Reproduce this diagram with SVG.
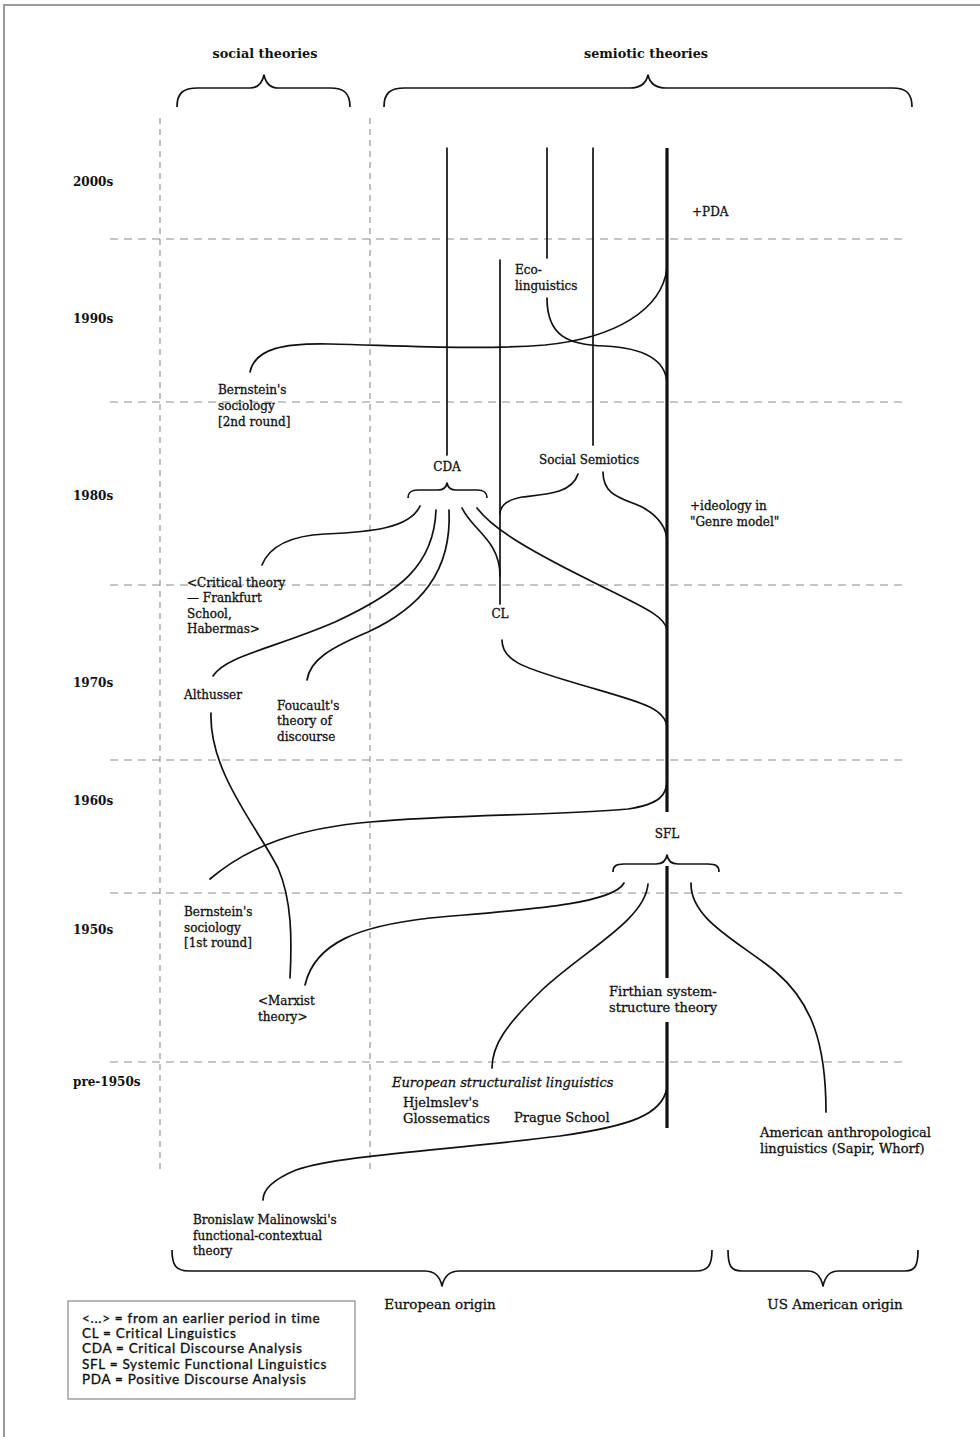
<svg xmlns="http://www.w3.org/2000/svg" width="980" height="1437" viewBox="0 0 980 1437">
  <style>
    .frame { fill: none; stroke: #9a9a9a; stroke-width: 2; }
    .grid { fill: none; stroke: #8c8c8c; stroke-width: 1.2; stroke-dasharray: 8 6; }
    .vgrid { fill: none; stroke: #8c8c8c; stroke-width: 1.1; stroke-dasharray: 6 5; }
    .line { fill: none; stroke: #111; stroke-width: 1.7; stroke-linecap: round; }
    .main { fill: none; stroke: #111; stroke-width: 3.2; }
    .brace { fill: none; stroke: #111; stroke-width: 1.7; stroke-linejoin: round; }
    .head { font-family: "DejaVu Serif", "Liberation Serif", serif; font-weight: bold; font-size: 12.8px; fill: #111; }
    .year { font-family: "DejaVu Serif", "Liberation Serif", serif; font-weight: bold; font-size: 12px; fill: #111; }
    .lbl { font-family: "DejaVu Serif", "Liberation Serif", serif; font-size: 12px; fill: #111; stroke: #111; stroke-width: 0.3; }
    .wide { font-size: 13px; }
    .origin { font-size: 13.5px; }
    .it { font-style: italic; }
    .mid { text-anchor: middle; }
    .legend { font-family: "Lato", "Liberation Sans", sans-serif; font-size: 13.5px; letter-spacing: 0.7px; fill: #111; stroke: #111; stroke-width: 0.35; }
    .box { fill: #fff; stroke: #888; stroke-width: 1.2; }
  </style>

  <rect width="980" height="1437" fill="#fff"/>
  <path class="frame" d="M4,1437 L4,5 L980,5"/>

  <!-- column headers with their braces -->
  <g id="header-social">
    <text class="head mid" x="265" y="58">social theories</text>
    <path class="brace" d="M177,107 C177,93 183,88 198,88 L250,88 C258,88 262,84 264,75 C266,84 270,88 278,88 L330,88 C344,88 350,93 350,107"/>
  </g>
  <g id="header-semiotic">
    <text class="head mid" x="646" y="58">semiotic theories</text>
    <path class="brace" d="M384,107 C384,93 390,88 405,88 L630,88 C640,88 646,84 648,75 C650,84 656,88 666,88 L892,88 C906,88 912,93 912,107"/>
  </g>

  <!-- decade grid -->
  <g id="grid">
    <path class="vgrid" d="M160,118 V1172 M370,118 V1172"/>
    <path class="grid" d="M110,239 H902 M110,402 H902 M110,585 H902 M110,760 H902 M110,893 H902 M110,1062 H902"/>
  </g>

  <g id="decades">
    <text class="year" x="73" y="186">2000s</text>
    <text class="year" x="73" y="323">1990s</text>
    <text class="year" x="73" y="500">1980s</text>
    <text class="year" x="73" y="687">1970s</text>
    <text class="year" x="73" y="805">1960s</text>
    <text class="year" x="73" y="934">1950s</text>
    <text class="year" x="73" y="1086">pre-1950s</text>
  </g>

  <!-- lines of influence -->
  <g id="connectors">
    <!-- SFL trunk -->
    <path class="main" d="M667,148 V812 M667,866 V978 M667,1022 V1128"/>
    <!-- straight strands -->
    <path class="line" d="M447,148 V455"/>
    <path class="line" d="M547,148 V258"/>
    <path class="line" d="M593,148 V445"/>
    <path class="line" d="M500,260 V604"/>
    <!-- Bernstein 2nd round into SFL -->
    <path class="line" d="M250,372 C255,348 285,343 330,344 C410,346 480,350 545,345 C615,338 662,310 667,268"/>
    <!-- Eco-linguistics out of SFL -->
    <path class="line" d="M547,298 C547,336 568,345 605,346 C645,348 665,360 667,382"/>
    <!-- Social Semiotics branches -->
    <path class="line" d="M578,474 C572,493 548,494 522,497 C506,500 500,506 500,514"/>
    <path class="line" d="M603,472 C603,496 622,498 642,507 C660,517 667,528 667,542"/>
    <!-- CDA fan -->
    <path class="line" d="M420,506 C410,528 372,532 325,534 C285,536 268,550 262,565"/>
    <path class="line" d="M436,510 C434,565 400,592 335,622 C275,648 225,656 213,676"/>
    <path class="line" d="M449,510 C452,572 420,608 368,632 C330,648 310,660 307,680"/>
    <path class="line" d="M462,508 C472,530 500,540 500,576"/>
    <path class="line" d="M477,508 C492,528 525,548 585,578 C640,606 665,615 667,630"/>
    <!-- CL into SFL -->
    <path class="line" d="M502,640 C502,660 522,667 565,680 C630,700 665,705 667,727"/>
    <!-- Bernstein 1st round into SFL -->
    <path class="line" d="M210,879 C250,845 300,828 370,822 C450,815 560,815 628,809 C660,804 667,795 667,780"/>
    <!-- Althusser back to Marxist theory -->
    <path class="line" d="M211,713 C209,772 258,828 278,868 C292,900 292,940 290,978"/>
    <!-- Marxist theory into SFL -->
    <path class="line" d="M305,985 C315,942 360,926 430,918 C520,910 612,905 624,883"/>
    <!-- roots of SFL -->
    <path class="line" d="M648,884 C645,920 585,950 542,990 C506,1025 492,1045 492,1068"/>
    <path class="line" d="M691,883 C690,920 740,942 776,972 C811,1002 826,1042 826,1112"/>
    <path class="line" d="M667,1088 C662,1115 630,1126 560,1136 C450,1150 340,1155 296,1170 C272,1180 263,1190 263,1200"/>
  </g>

  <g id="braces">
    <path id="brace-cda" class="brace" d="M408,498 C408,492 411,490 418,490 L438,490 C443,490 446,488 447,483 C448,488 451,490 456,490 L477,490 C484,490 487,492 487,498"/>
    <path id="brace-sfl" class="brace" d="M613,872 C613,866 616,864 624,864 L656,864 C662,864 666,861 667,855 C668,861 672,864 678,864 L708,864 C716,864 719,866 719,872"/>
    <path id="brace-europe" class="brace" d="M172,1250 C172,1266 176,1271 190,1271 L425,1271 C435,1271 440,1277 442,1286 C444,1277 449,1271 459,1271 L695,1271 C708,1271 712,1266 712,1250"/>
    <path id="brace-us" class="brace" d="M728,1250 C728,1266 731,1271 742,1271 L808,1271 C817,1271 821,1277 823,1286 C825,1277 829,1271 838,1271 L905,1271 C915,1271 918,1266 918,1250"/>
  </g>

  <!-- theories -->
  <g id="pda"><text class="lbl" x="692" y="216">+PDA</text></g>
  <g id="eco"><text class="lbl" x="515" y="274">Eco-</text><text class="lbl" x="515" y="290">linguistics</text></g>
  <g id="bernstein-2">
    <text class="lbl" x="218" y="394">Bernstein's</text>
    <text class="lbl" x="218" y="410">sociology</text>
    <text class="lbl" x="218" y="426">[2nd round]</text>
  </g>
  <g id="cda"><text class="lbl mid" x="447" y="471">CDA</text></g>
  <g id="social-semiotics"><text class="lbl mid" x="589" y="464">Social Semiotics</text></g>
  <g id="genre">
    <text class="lbl" x="690" y="510">+ideology in</text>
    <text class="lbl" x="690" y="526">"Genre model"</text>
  </g>
  <g id="critical-theory">
    <text class="lbl" x="187" y="587">&lt;Critical theory</text>
    <text class="lbl" x="187" y="602">— Frankfurt</text>
    <text class="lbl" x="187" y="618">School,</text>
    <text class="lbl" x="187" y="633">Habermas&gt;</text>
  </g>
  <g id="cl"><text class="lbl mid" x="500" y="618">CL</text></g>
  <g id="althusser"><text class="lbl" x="184" y="699">Althusser</text></g>
  <g id="foucault">
    <text class="lbl" x="277" y="710">Foucault's</text>
    <text class="lbl" x="277" y="725">theory of</text>
    <text class="lbl" x="277" y="741">discourse</text>
  </g>
  <g id="sfl"><text class="lbl mid" x="667" y="838">SFL</text></g>
  <g id="bernstein-1">
    <text class="lbl" x="184" y="916">Bernstein's</text>
    <text class="lbl" x="184" y="932">sociology</text>
    <text class="lbl" x="184" y="947">[1st round]</text>
  </g>
  <g id="marxist">
    <text class="lbl" x="258" y="1005">&lt;Marxist</text>
    <text class="lbl" x="258" y="1021">theory&gt;</text>
  </g>
  <g id="firth">
    <text class="lbl wide" x="609" y="996">Firthian system-</text>
    <text class="lbl wide" x="609" y="1012">structure theory</text>
  </g>
  <g id="structuralism">
    <text class="lbl wide it" x="392" y="1087">European structuralist linguistics</text>
    <text class="lbl wide" x="403" y="1107">Hjelmslev's</text>
    <text class="lbl wide" x="403" y="1123">Glossematics</text>
    <text class="lbl wide" x="514" y="1122">Prague School</text>
  </g>
  <g id="american">
    <text class="lbl wide" x="760" y="1137">American anthropological</text>
    <text class="lbl wide" x="760" y="1153">linguistics (Sapir, Whorf)</text>
  </g>
  <g id="malinowski">
    <text class="lbl" x="193" y="1224">Bronislaw Malinowski's</text>
    <text class="lbl" x="193" y="1240">functional-contextual</text>
    <text class="lbl" x="193" y="1255">theory</text>
  </g>

  <!-- origins -->
  <g id="origin-europe"><text class="lbl origin mid" x="440" y="1309">European origin</text></g>
  <g id="origin-us"><text class="lbl origin mid" x="835" y="1309">US American origin</text></g>

  <!-- key -->
  <g id="legend">
    <rect class="box" x="68" y="1301" width="287" height="98"/>
    <text class="legend" x="82" y="1323">&lt;...&gt; = from an earlier period in time</text>
    <text class="legend" x="82" y="1338">CL = Critical Linguistics</text>
    <text class="legend" x="82" y="1353">CDA = Critical Discourse Analysis</text>
    <text class="legend" x="82" y="1369">SFL = Systemic Functional Linguistics</text>
    <text class="legend" x="82" y="1384">PDA = Positive Discourse Analysis</text>
  </g>
</svg>
